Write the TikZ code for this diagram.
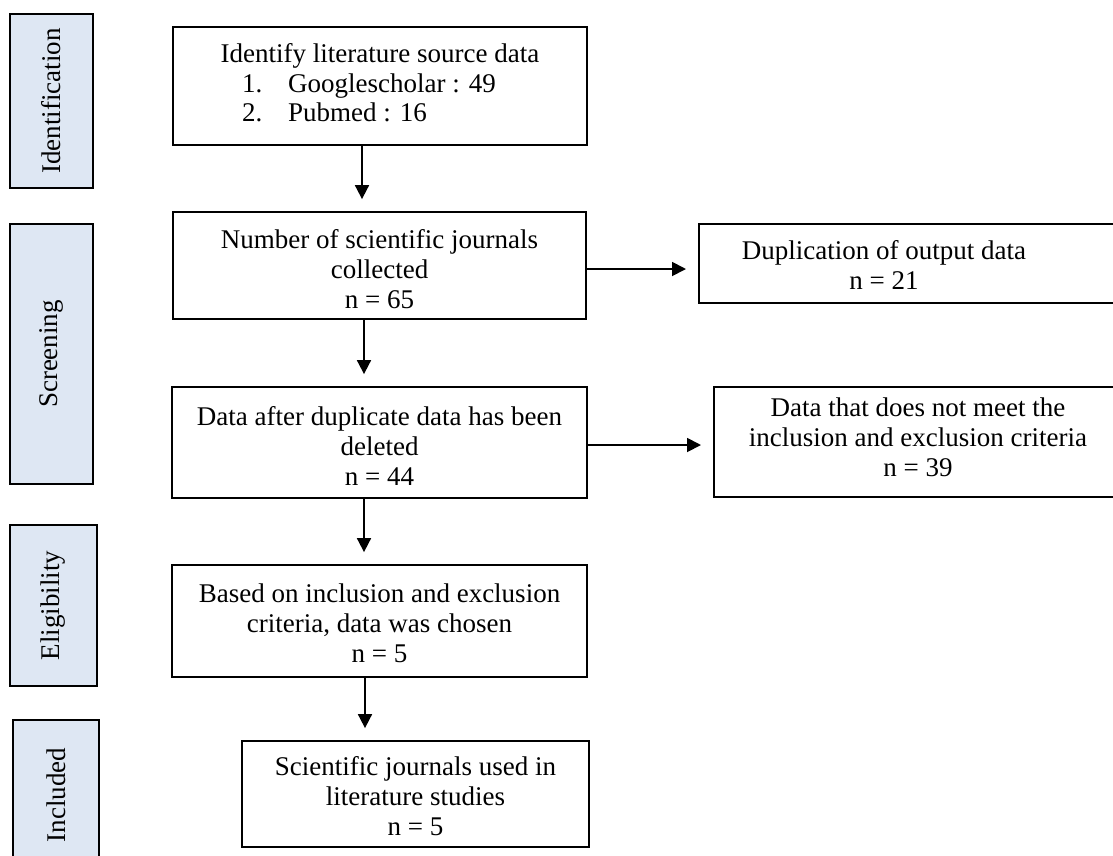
\documentclass[tikz,border=0pt]{standalone}
\usepackage{fontspec}
\setmainfont{Liberation Serif}
\usetikzlibrary{arrows.meta}
\definecolor{phasefill}{HTML}{DEE7F3}
\tikzset{
  stagebox/.style={draw, line width=1.6pt, fill=phasefill, inner sep=0pt, rotate=90,
    font=\fontsize{27}{30}\selectfont},
  flowbox/.style={draw, line width=1.8pt, inner sep=0pt},
  txt/.style={inner sep=0pt, align=center, font=\fontsize{27}{30}\selectfont},
  flow/.style={line width=1.8pt, -{Triangle[length=14pt,width=14pt]}, shorten >=12pt},
}
\begin{document}
\begin{tikzpicture}[x=1pt,y=-1pt]
\useasboundingbox (0,0) rectangle (1113,855);
\clip (0,0) rectangle (1113,855);

% phase labels on the left
\node[stagebox, minimum width=174pt, minimum height=83pt] (sId)   at (51.5,101)   {Identification};
\node[stagebox, minimum width=260pt, minimum height=83pt] (sScr)  at (51.5,354)   {Screening};
\node[stagebox, minimum width=161pt, minimum height=87pt] (sElig) at (53.5,605.5) {Eligibility};
\node[stagebox, minimum width=150pt, minimum height=86pt] (sInc)  at (56,795)     {Included};

% main column
\node[flowbox, minimum width=414pt, minimum height=118pt] (b1) at (380,86) {};
\node[txt, anchor=base] (b1t) at (380,62) {Identify literature source data};
\node[txt, anchor=base west] (b1n1) at (242,92)  {1.};
\node[txt, anchor=base west] (b1i1) at (288,92)  {Googlescholar : 49};
\node[txt, anchor=base west] (b1n2) at (242,121) {2.};
\node[txt, anchor=base west] (b1i2) at (288,121) {Pubmed : 16};

\node[flowbox, minimum width=413pt, minimum height=107pt] (b2) at (379.5,265.5) {};
\node[txt] (b2t) at (379.5,269) {Number of scientific journals\\collected\\n = 65};
\node[flowbox, minimum width=415pt, minimum height=111pt] (b3) at (379.5,442.5) {};
\node[txt] (b3t) at (379.5,446) {Data after duplicate data has been\\deleted\\n = 44};
\node[flowbox, minimum width=415pt, minimum height=112pt] (b4) at (379.5,621) {};
\node[txt] (b4t) at (379.5,623) {Based on inclusion and exclusion\\criteria, data was chosen\\n = 5};
\node[flowbox, minimum width=347pt, minimum height=106pt] (b5) at (415.5,794) {};
\node[txt] (b5t) at (415.5,796) {Scientific journals used in\\literature studies\\n = 5};

% side column (boxes run past the right edge)
\node[flowbox, minimum width=427pt, minimum height=79pt, anchor=west] (r1) at (698,263.5) {};
\node[txt] (r1t) at (884,265) {Duplication of output data\\n = 21};
\node[flowbox, minimum width=412pt, minimum height=110pt, anchor=west] (r2) at (713,442) {};
\node[txt] (r2t) at (918,437) {Data that does not meet the\\inclusion and exclusion criteria\\n = 39};

% connectors
\draw[flow] ([xshift=-18pt]b1.south) -- ([xshift=-18pt]b1.south |- b2.north);
\draw[flow] ([xshift=-15.5pt]b2.south) -- ([xshift=-15.5pt]b2.south |- b3.north);
\draw[flow] ([xshift=-15.5pt]b3.south) -- ([xshift=-15.5pt]b3.south |- b4.north);
\draw[flow] ([xshift=-14.5pt]b4.south) -- ([xshift=-14.5pt]b4.south |- b5.north);
\draw[flow] ([yshift=-3.5pt]b2.east) -- ([yshift=-3.5pt]b2.east -| r1.west);
\draw[flow] ([yshift=-2.5pt]b3.east) -- ([yshift=-2.5pt]b3.east -| r2.west);
\end{tikzpicture}
\end{document}
